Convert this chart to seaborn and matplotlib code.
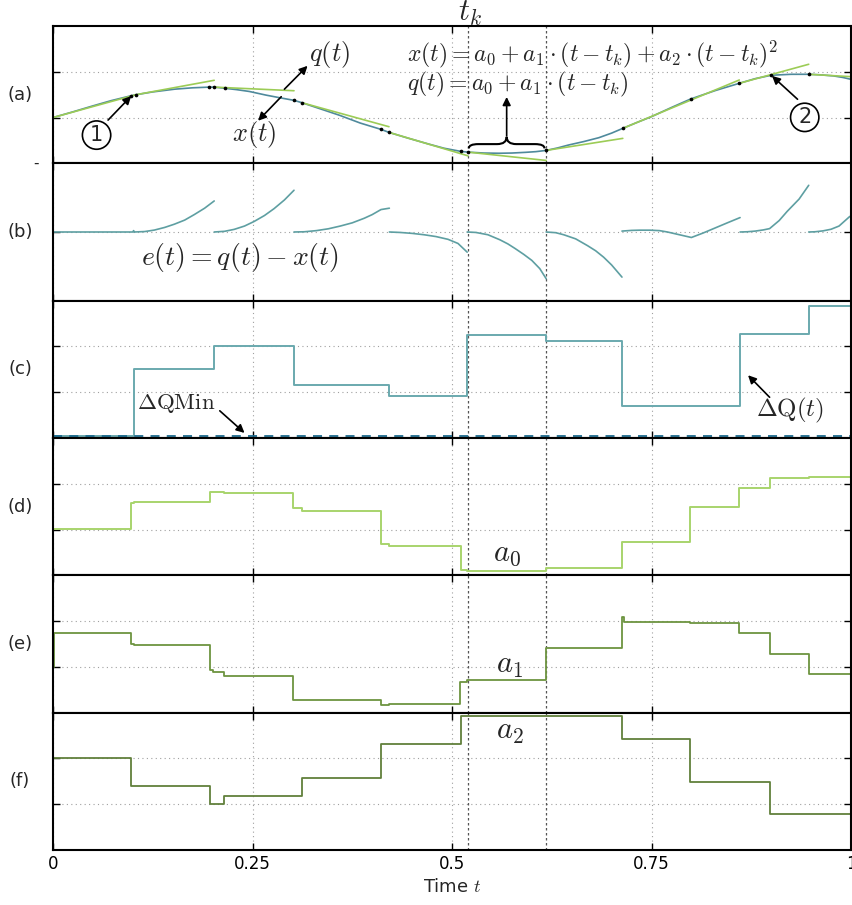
import numpy as np
import pandas as pd
import matplotlib
matplotlib.use("Agg")
import matplotlib.pyplot as plt
import seaborn as sns
from matplotlib.path import Path
from matplotlib.patches import PathPatch

sns.set_theme(style="white")
plt.rcParams['font.family'] = ['DejaVu Sans']
plt.rcParams['mathtext.fontset'] = 'cm'

# ---------------- data ----------------
# (a) state trajectory x(t)
x_t = [0.000, 0.025, 0.049, 0.073, 0.098, 0.104, 0.125, 0.1525, 0.175, 0.196, 0.2016, 0.215,
       0.23, 0.246, 0.267, 0.285, 0.302, 0.312, 0.335, 0.359, 0.385, 0.411, 0.421, 0.445,
       0.471, 0.49, 0.511, 0.520, 0.54, 0.559, 0.575, 0.592, 0.605, 0.618, 0.632, 0.646,
       0.665, 0.684, 0.70, 0.714, 0.73, 0.750, 0.775, 0.799, 0.83, 0.860, 0.88, 0.900,
       0.925, 0.947, 0.96, 0.978, 0.99, 1.000]
x_v = [0.00, 0.125, 0.25, 0.37, 0.477, 0.499, 0.56, 0.62, 0.65, 0.665, 0.665, 0.64,
       0.61, 0.57, 0.49, 0.43, 0.376, 0.324, 0.19, 0.05, -0.12, -0.258, -0.324, -0.45,
       -0.58, -0.67, -0.739, -0.755, -0.775, -0.78, -0.775, -0.76, -0.745, -0.718, -0.665, -0.60,
       -0.525, -0.44, -0.34, -0.236, -0.12, 0.02, 0.22, 0.405, 0.59, 0.748, 0.85, 0.924,
       0.945, 0.945, 0.935, 0.91, 0.875, 0.835]
# (a) event dots
dot_t = [0.098, 0.104, 0.196, 0.202, 0.215, 0.302, 0.312, 0.411, 0.421, 0.511, 0.520,
         0.618, 0.714, 0.799, 0.860, 0.900, 0.947]
dot_v = [0.477, 0.499, 0.665, 0.665, 0.64, 0.376, 0.324, -0.258, -0.324, -0.739, -0.755,
         -0.718, -0.236, 0.405, 0.748, 0.924, 0.945]
# (a) quantized linear segments q(t)
q_t0 = [0.000, 0.104, 0.202, 0.312, 0.421, 0.520, 0.618, 0.714, 0.860, 0.947]
q_v0 = [0.00, 0.499, 0.665, 0.324, -0.324, -0.755, -0.718, -0.236, 0.748, 0.945]
q_t1 = [0.104, 0.202, 0.302, 0.421, 0.520, 0.618, 0.714, 0.860, 0.947, 1.000]
q_v1 = [0.499, 0.814, 0.586, -0.20, -0.836, -0.937, -0.455, 0.821, 1.164, 0.893]

# (b) error e(t) = q(t) - x(t), one list per segment
e_seg_t = [[0.0, 0.1, 0.101, 0.102],
           [0.102, 0.115, 0.127, 0.14, 0.152, 0.165, 0.177, 0.19, 0.202],
           [0.202, 0.215, 0.227, 0.24, 0.252, 0.265, 0.277, 0.29, 0.302],
           [0.302, 0.315, 0.33, 0.345, 0.36, 0.375, 0.39, 0.40, 0.411, 0.4215],
           [0.4215, 0.435, 0.45, 0.465, 0.48, 0.495, 0.5075, 0.519],
           [0.519, 0.53, 0.545, 0.56, 0.57, 0.579, 0.59, 0.60, 0.61, 0.618],
           [0.618, 0.63, 0.64, 0.655, 0.67, 0.68, 0.69, 0.70, 0.713],
           [0.713, 0.725, 0.735, 0.748, 0.76, 0.77, 0.78, 0.79, 0.80, 0.815, 0.83, 0.845, 0.861],
           [0.861, 0.87, 0.88, 0.89, 0.898, 0.91, 0.92, 0.935, 0.947],
           [0.947, 0.955, 0.965, 0.975, 0.985, 0.9985]]
e_seg_v = [[0.0, 0.0, 0.03, 0.0],
           [0.0, 0.01, 0.042, 0.10, 0.17, 0.26, 0.38, 0.52, 0.678],
           [0.0, 0.015, 0.057, 0.13, 0.23, 0.36, 0.51, 0.70, 0.912],
           [0.0, 0.005, 0.03, 0.07, 0.13, 0.20, 0.30, 0.38, 0.49, 0.52],
           [0.0, -0.01, -0.03, -0.06, -0.10, -0.16, -0.25, -0.44],
           [0.0, -0.01, -0.06, -0.17, -0.26, -0.36, -0.49, -0.62, -0.80, -1.02],
           [0.0, -0.015, -0.06, -0.15, -0.30, -0.41, -0.55, -0.72, -0.985],
           [0.02, 0.035, 0.04, 0.04, 0.03, 0.0, -0.04, -0.08, -0.12, -0.02, 0.09, 0.20, 0.315],
           [0.0, 0.005, 0.02, 0.045, 0.074, 0.25, 0.45, 0.72, 1.02],
           [0.0, 0.005, 0.025, 0.06, 0.13, 0.34]]

# (c) quantum dQ(t) (step, post)
dq_t = [0, 0.102, 0.202, 0.302, 0.4215, 0.519, 0.618, 0.713, 0.861, 0.947, 1.0]
dq_v = [-0.947, 0.498, 1.016, 0.164, -0.08, 1.26, 1.127, -0.311, 1.276, 1.876, 1.876]
dq_min = -0.947

# (d) a0
a0_t = [0, 0.098, 0.102, 0.197, 0.2145, 0.301, 0.3115, 0.411, 0.421, 0.511, 0.519, 0.618,
        0.713, 0.7985, 0.86, 0.898, 0.947, 1.0]
a0_v = [0.01, 0.57, 0.61, 0.81, 0.79, 0.475, 0.41, -0.31, -0.37, -0.875, -0.90, -0.85,
        -0.27, 0.50, 0.91, 1.12, 1.15, 1.15]
# (e) a1
a1_t = [0, 0.0015, 0.098, 0.102, 0.197, 0.201, 0.2145, 0.301, 0.411, 0.421, 0.5098, 0.519,
        0.618, 0.713, 0.716, 0.7985, 0.86, 0.898, 0.947, 1.0]
a1_v = [0.0, 0.744, 0.51, 0.48, -0.07, -0.116, -0.197, -0.73, -0.84, -0.80, -0.34, -0.276,
        0.41, 1.08, 0.985, 0.96, 0.744, 0.29, -0.145, -0.145]
# (f) a2
a2_t = [0, 0.098, 0.197, 0.2145, 0.3115, 0.411, 0.511, 0.7135, 0.7985, 0.898, 1.0]
a2_v = [1.0, 0.404, 0.0, 0.187, 0.578, 1.31, 1.92, 1.42, 0.49, -0.204, -0.204]

t_marks = [0.52, 0.6175]
xticks = [0, 0.25, 0.5, 0.75, 1]
xtick_labels = ["0", "0.25", "0.5", "0.75", "1"]
panel_labels = ["(a)", "(b)", "(c)", "(d)", "(e)", "(f)"]

# ---------------- colours ----------------
C_X = "#4f8a9c"
C_Q = "#9ccc56"
C_E = "#5e9fa2"
C_DQ = "#6aa9ae"
C_DQMIN = "#1b6a8e"
C_A0 = "#a8d46c"
C_A1 = "#6d9440"
C_A2 = "#61803c"

# ---------------- figure ----------------
fig, axes = plt.subplots(6, 1, sharex=True, figsize=(8.52, 9.05), dpi=100,
                         gridspec_kw=dict(hspace=0))
fig.subplots_adjust(left=53/852, right=851/852, top=1-26/905, bottom=1-850/905)

ax_a, ax_b, ax_c, ax_d, ax_e, ax_f = axes

# (a)
df_x = pd.DataFrame({"t": x_t, "v": x_v})
sns.lineplot(data=df_x, x="t", y="v", ax=ax_a, color=C_X, lw=1.2, estimator=None, sort=False)
q_rows = []
for i, (t0, v0, t1, v1) in enumerate(zip(q_t0, q_v0, q_t1, q_v1)):
    q_rows += [(i, t0, v0), (i, t1, v1)]
df_q = pd.DataFrame(q_rows, columns=["seg", "t", "v"])
sns.lineplot(data=df_q, x="t", y="v", units="seg", ax=ax_a, color=C_Q, lw=1.2,
             estimator=None, sort=False)
sns.scatterplot(x=dot_t, y=dot_v, ax=ax_a, color="black", s=7, linewidth=0, zorder=5)

# (b)
e_rows = []
for i, (ts, vs) in enumerate(zip(e_seg_t, e_seg_v)):
    e_rows += [(i, t, v) for t, v in zip(ts, vs)]
df_e = pd.DataFrame(e_rows, columns=["seg", "t", "v"])
sns.lineplot(data=df_e, x="t", y="v", units="seg", ax=ax_b, color=C_E, lw=1.2,
             estimator=None, sort=False)

# (c)
sns.lineplot(x=dq_t, y=dq_v, ax=ax_c, color=C_DQ, lw=1.4, drawstyle="steps-post",
             estimator=None, sort=False)
ax_c.axhline(dq_min, color=C_DQMIN, lw=1.3, ls=(0, (5, 4)))

# (d)-(f)
sns.lineplot(x=a0_t, y=a0_v, ax=ax_d, color=C_A0, lw=1.4, drawstyle="steps-post",
             estimator=None, sort=False)
sns.lineplot(x=a1_t, y=a1_v, ax=ax_e, color=C_A1, lw=1.3, drawstyle="steps-post",
             estimator=None, sort=False)
sns.lineplot(x=a2_t, y=a2_v, ax=ax_f, color=C_A2, lw=1.3, drawstyle="steps-post",
             estimator=None, sort=False)

# common styling
ylims = [(-1, 2), (-1.5, 1.5), (-1, 2), (-1, 2), (-1, 2), (-1, 2)]
yticks = [[0, 1], [0], [0, 1], [0, 1], [0, 1], [0, 1]]
for ax, yl, yt, lab in zip(axes, ylims, yticks, panel_labels):
    ax.set_xlim(0, 1)
    ax.set_ylim(*yl)
    ax.set_yticks(yt)
    ax.set_xticks(xticks)
    ax.set_ylabel("")
    ax.set_xlabel("")
    ax.grid(True, ls=(0, (1, 3)), color="#a0a0a0", lw=0.8)
    ax.tick_params(direction="in", top=True, right=True, bottom=True, left=True,
                   length=5, width=1, labelleft=False, colors="black", labelsize=12)
    for s in ax.spines.values():
        s.set_linewidth(1.5)
        s.set_color("black")
    for tm in t_marks:
        ax.axvline(tm, color="#555555", lw=0.9, ls=(0, (2, 2)), zorder=1)
    bb = ax.get_position()
    fig.text(20/852, (bb.y0 + bb.y1) / 2, lab, ha="center", va="center", fontsize=13)

ax_f.set_xticklabels(xtick_labels)
ax_f.set_xlabel("Time $t$", fontsize=13)
fig.text(36/852, 1 - 163/905, "-", ha="center", va="center", fontsize=11)

arrow = dict(arrowstyle="-|>", color="black", lw=1.2, mutation_scale=12,
             shrinkA=0, shrinkB=0)

# annotations (a)
ax_a.text(0.523, 2.28, r"$t_k$", fontsize=22, ha="center", va="center", clip_on=False)
ax_a.text(0.0546, -0.383, "1", fontsize=15, ha="center", va="center",
          bbox=dict(boxstyle="circle,pad=0.2", fc="white", ec="black", lw=1.2))
ax_a.annotate("", xy=(0.098, 0.47), xytext=(0.069, -0.055), arrowprops=arrow)
ax_a.text(0.942, 0.004, "2", fontsize=15, ha="center", va="center",
          bbox=dict(boxstyle="circle,pad=0.2", fc="white", ec="black", lw=1.2))
ax_a.annotate("", xy=(0.901, 0.91), xytext=(0.933, 0.40), arrowprops=arrow)
ax_a.text(0.346, 1.37, r"$q(t)$", fontsize=19, ha="center", va="center")
ax_a.annotate("", xy=(0.319, 1.13), xytext=(0.29, 0.62), arrowprops=arrow)
ax_a.text(0.2525, -0.38, r"$x(t)$", fontsize=19, ha="center", va="center")
ax_a.annotate("", xy=(0.257, -0.07), xytext=(0.286, 0.455), arrowprops=arrow)
ax_a.text(0.444, 1.37, r"$x(t) = a_0 + a_1\cdot(t-t_k) + a_2\cdot(t-t_k)^2$",
          fontsize=17, ha="left", va="center")
ax_a.text(0.444, 0.73, r"$q(t) = a_0 + a_1\cdot(t-t_k)$",
          fontsize=17, ha="left", va="center")
# brace
x0, x1 = 0.521, 0.616
xm = (x0 + x1) / 2
yb, ym, ytip, d = -0.674, -0.58, -0.42, 0.012
verts = [(x0, yb), (x0, ym), (x0 + d, ym), (xm - d, ym), (xm, ym), (xm, ytip),
         (xm, ym), (xm + d, ym), (x1 - d, ym), (x1, ym), (x1, yb)]
codes = [Path.MOVETO, Path.CURVE3, Path.CURVE3, Path.LINETO, Path.CURVE3, Path.CURVE3,
         Path.CURVE3, Path.CURVE3, Path.LINETO, Path.CURVE3, Path.CURVE3]
ax_a.add_patch(PathPatch(Path(verts, codes), fc="none", ec="black", lw=1.5))
ax_a.annotate("", xy=(xm, 0.45), xytext=(xm, ytip + 0.02), arrowprops=arrow)

# (b)
ax_b.text(0.234, -0.547, r"$e(t) = q(t) - x(t)$", fontsize=20, ha="center", va="center")

# (c)
ax_c.text(0.154, -0.25, r"$\Delta\mathrm{QMin}$", fontsize=16.5, ha="center", va="center")
ax_c.annotate("", xy=(0.24, -0.889), xytext=(0.209, -0.406), arrowprops=arrow)
ax_c.text(0.924, -0.407, r"$\Delta\mathrm{Q}(t)$", fontsize=18, ha="center", va="center")
ax_c.annotate("", xy=(0.871, 0.371), xytext=(0.898, -0.11), arrowprops=arrow)

# (d)-(f)
ax_d.text(0.569, -0.516, r"$a_0$", fontsize=22, ha="center", va="center")
ax_e.text(0.5725, 0.04, r"$a_1$", fontsize=22, ha="center", va="center")
ax_f.text(0.5725, 1.58, r"$a_2$", fontsize=22, ha="center", va="center")

fig.savefig("out.png", dpi=100)
